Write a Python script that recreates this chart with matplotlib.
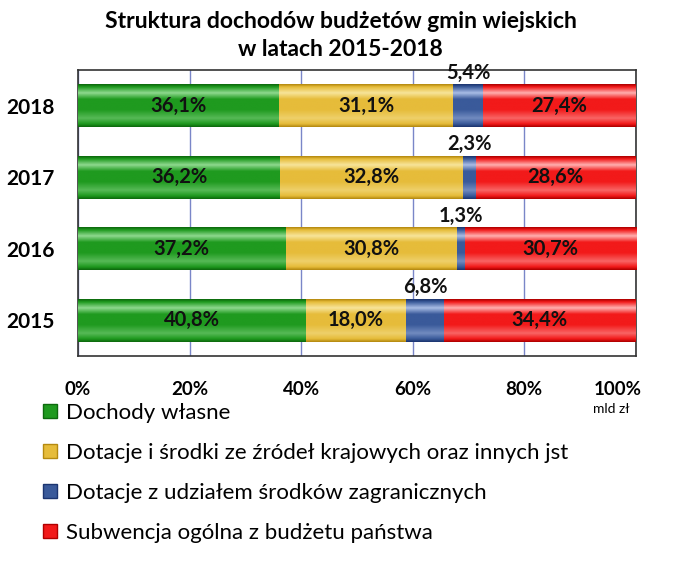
import numpy as np
import matplotlib.pyplot as plt
from matplotlib.lines import Line2D
from matplotlib.colors import to_rgb
import matplotlib.transforms as mtrans

plt.rcParams['font.family'] = ['Lato', 'DejaVu Sans']

years = ['2015', '2016', '2017', '2018']
dochody = [40.8, 37.2, 36.2, 36.1]
dotacje_kraj = [18.0, 30.8, 32.8, 31.1]
dotacje_zagr = [6.8, 1.3, 2.3, 5.4]
subwencja = [34.4, 30.7, 28.6, 27.4]

series = [dochody, dotacje_kraj, dotacje_zagr, subwencja]
names = ['Dochody własne',
         'Dotacje i środki ze źródeł krajowych oraz innych jst',
         'Dotacje z udziałem środków zagranicznych',
         'Subwencja ogólna z budżetu państwa']
colors = ['#1f9a1f', '#e6bc3a', '#3a5a9a', '#f21a1a']
dark = ['#0d6a0d', '#b58a10', '#1c3570', '#b00000']
light = ['#8fd98f', '#f7e49a', '#a9bde6', '#ffb0b0']


def gradient(c, d, l):
    # vertical profile: dark edge, highlight, body, light band, dark edge
    c, d, l = np.array(to_rgb(c)), np.array(to_rgb(d)), np.array(to_rgb(l))
    stops = [(0.0, d), (0.06, c), (0.2, l), (0.35, c), (0.6, c), (0.8, (c + l) / 2), (0.93, c), (1.0, d)]
    ys = np.linspace(0, 1, 64)
    img = np.zeros((64, 1, 3))
    for ch in range(3):
        img[:, 0, ch] = np.interp(ys, [s[0] for s in stops], [s[1][ch] for s in stops])
    return img


fig = plt.figure(figsize=(6.75, 5.78), dpi=100)
ax = fig.add_axes([0.1156, 0.384, 0.8264, 0.495])

y = np.arange(len(years))
left = np.zeros(len(years))
h = 0.6
for k, vals in enumerate(series):
    bars = ax.barh(y, vals, left=left, height=h, color=colors[k], edgecolor='none', zorder=2)
    img = gradient(colors[k], dark[k], light[k])
    for b in bars:
        x0, y0, w, hh = b.get_x(), b.get_y(), b.get_width(), b.get_height()
        im = ax.imshow(img, extent=[x0, x0 + w, y0, y0 + hh], origin='upper', aspect='auto', zorder=3)
        im.set_clip_path(b)
    for i, v in enumerate(vals):
        txt = ('%.1f%%' % v).replace('.', ',')
        if k == 2:
            ax.text(left[i] + v / 2, y[i] + h / 2 + 0.02, txt, ha='center', va='bottom',
                    fontsize=14.5, fontweight='bold', color='#111111', zorder=5)
        else:
            ax.text(left[i] + v / 2, y[i], txt, ha='center', va='center',
                    fontsize=14.5, fontweight='bold', color='#111111', zorder=5)
    left = left + np.array(vals)

ax.set_xlim(0, 100)
ax.set_ylim(-0.5, 3.5)
ax.set_xticks([0, 20, 40, 60, 80, 100])
ax.set_xticklabels(['0%', '20%', '40%', '60%', '80%', '100%'], fontsize=13.5, fontweight='bold')
ax.set_yticks(y)
ax.set_yticklabels(years, fontsize=15, fontweight='bold')
ax.tick_params(length=0)
ax.tick_params(axis='y', pad=17)
ax.tick_params(axis='x', pad=18)
# shift the last tick label left, like the original
lbl = ax.get_xticklabels()[-1]
lbl.set_transform(lbl.get_transform() + mtrans.ScaledTranslation(-18 / 100, 0, fig.dpi_scale_trans))
ax.grid(axis='x', color='#7a86c8', linewidth=1, zorder=0)
ax.set_axisbelow(True)
for s in ax.spines.values():
    s.set_color('#333333')
    s.set_linewidth(1.2)

fig.text(0.505, 0.962, 'Struktura dochodów budżetów gmin wiejskich', ha='center', va='center',
         fontsize=16.5, fontweight='bold')
fig.text(0.505, 0.914, 'w latach 2015-2018', ha='center', va='center', fontsize=16.5, fontweight='bold')
fig.text(0.905, 0.292, 'mld zł', ha='center', va='center', fontsize=10)

handles = [Line2D([], [], marker='s', linestyle='none', markersize=10,
                  markerfacecolor=colors[k], markeredgecolor=dark[k]) for k in range(4)]
fig.legend(handles, names, loc='upper left', bbox_to_anchor=(0.045, 0.318), frameon=False,
           fontsize=16, handletextpad=0.2, labelspacing=0.9, handlelength=1.0,
           borderaxespad=0)

fig.savefig('out.png', dpi=100)
